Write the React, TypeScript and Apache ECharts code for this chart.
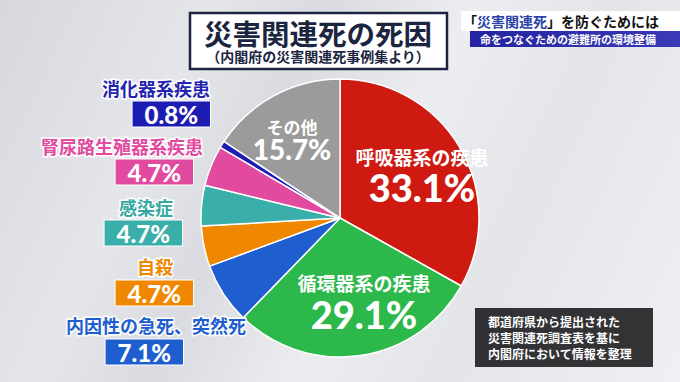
import React, { useEffect, useRef } from "react";
import * as echarts from "echarts";

const categories = ["呼吸器系の疾患", "循環器系の疾患", "内因性の急死、突然死", "自殺", "感染症", "腎尿路生殖器系疾患", "消化器系疾患", "その他"];
const values = [33.1, 29.1, 7.1, 4.7, 4.7, 4.7, 0.8, 15.7];
const sliceColors = ["#cf1a12", "#2db84b", "#1e5ecf", "#ef8800", "#3aaea8", "#e14a9f", "#1c1cb3", "#9b9b9b"];
const nameColors = ["#ffffff", "#ffffff", "#1e5ecf", "#ef8800", "#34a8a2", "#e14a9f", "#2323b0", "#ffffff"];

// label placement (not data)
const insideLabelPos: Record<number, { x: number; y1: number; y2: number; f1: number; f2: number }> = {
  0: { x: 422, y1: 156, y2: 187, f1: 19, f2: 38 },
  1: { x: 364, y1: 282, y2: 314, f1: 19, f2: 38 },
  7: { x: 292, y1: 126, y2: 149, f1: 17, f2: 28 },
};
const outsideLabelPos: Record<number, { nx: number; ny: number; bx: number; by: number }> = {
  2: { nx: 246, ny: 325, bx: 183, by: 352 },
  3: { nx: 173, ny: 266, bx: 193, by: 293 },
  4: { nx: 173, ny: 207, bx: 182, by: 233 },
  5: { nx: 203, ny: 146, bx: 193, by: 172 },
  6: { nx: 210, ny: 88, bx: 210, by: 114 },
};

const FONT = '"Noto Sans CJK JP", "Noto Sans", sans-serif';
const NUMFONT = 'Lato, "Noto Sans", sans-serif';

export default function App() {
  const ref = useRef<HTMLDivElement>(null);
  useEffect(() => {
    if (!ref.current) return;
    const chart = echarts.init(ref.current, null, { renderer: "svg" });
    const graphics: any[] = [];

    // title box
    graphics.push({
      type: "rect",
      shape: { x: 190, y: 13, width: 257, height: 56 },
      style: { fill: "#ffffff", stroke: "#1c2540", lineWidth: 2.5 },
    });
    graphics.push({
      type: "text",
      x: 318, y: 32,
      style: { text: "災害関連死の死因", font: `bold 28.5px ${FONT}`, fill: "#1c2540", align: "center", verticalAlign: "middle" },
    });
    graphics.push({
      type: "text",
      x: 318, y: 56,
      style: { text: "（内閣府の災害関連死事例集より）", font: `bold 14px ${FONT}`, fill: "#1c2540", align: "center", verticalAlign: "middle" },
    });

    // top-right caption
    graphics.push({
      type: "rect",
      shape: { x: 461, y: 11, width: 219, height: 20 },
      style: { fill: "#ffffff" },
    });
    graphics.push({
      type: "text",
      x: 463, y: 21,
      style: {
        text: "{b|「}{h|災害関連死}{b|」を防ぐためには}",
        verticalAlign: "middle",
        rich: {
          b: { font: `bold 14px ${FONT}`, fill: "#111111" },
          h: { font: `bold 14px ${FONT}`, fill: "#2b44a8" },
        },
      },
    });
    graphics.push({
      type: "rect",
      shape: { x: 470, y: 31, width: 210, height: 16 },
      style: {
        fill: new echarts.graphic.LinearGradient(0, 0, 1, 0, [
          { offset: 0, color: "#2424a0" },
          { offset: 1, color: "#3a3ab8" },
        ]),
      },
    });
    graphics.push({
      type: "text",
      x: 480, y: 39,
      style: { text: "命をつなぐための避難所の環境整備", font: `bold 11px ${FONT}`, fill: "#ffffff", verticalAlign: "middle" },
    });

    // note box
    graphics.push({
      type: "rect",
      shape: { x: 475, y: 308, width: 178, height: 59 },
      style: { fill: "rgba(35,35,38,0.92)" },
    });
    ["都道府県から提出された", "災害関連死調査表を基に", "内閣府において情報を整理"].forEach((t, i) => {
      graphics.push({
        type: "text",
        x: 488, y: 321 + i * 16,
        style: { text: t, font: `bold 12px ${FONT}`, fill: "#ffffff", verticalAlign: "middle" },
      });
    });

    // slice labels
    categories.forEach((name, i) => {
      const pct = values[i].toFixed(1) + "%";
      const inside = insideLabelPos[i];
      if (inside) {
        graphics.push({
          type: "text", x: inside.x, y: inside.y1, z: 10,
          style: { text: name, font: `bold ${inside.f1}px ${FONT}`, fill: "#ffffff", align: "center", verticalAlign: "middle" },
        });
        graphics.push({
          type: "text", x: inside.x, y: inside.y2, z: 10,
          style: { text: pct, font: `900 ${inside.f2}px ${NUMFONT}`, fill: "#ffffff", align: "center", verticalAlign: "middle" },
        });
      }
      const out = outsideLabelPos[i];
      if (out) {
        graphics.push({
          type: "text", x: out.nx, y: out.ny, z: 10,
          style: {
            text: name, font: `bold 18px ${FONT}`, fill: nameColors[i],
            stroke: "#ffffff", lineWidth: 3, align: "right", verticalAlign: "middle",
          },
        });
        graphics.push({
          type: "text", x: out.bx, y: out.by, z: 10,
          style: {
            text: pct, font: `900 24px ${NUMFONT}`, fill: "#ffffff",
            backgroundColor: sliceColors[i], borderColor: "#ffffff", borderWidth: 1,
            padding: [0, 12, 0, 12], lineHeight: 25,
            align: "right", verticalAlign: "middle",
          },
        });
      }
    });

    chart.setOption({
      animation: false,
      graphic: graphics,
      series: [
        {
          type: "pie",
          center: [340, 218],
          radius: 139,
          startAngle: 90,
          clockwise: true,
          label: { show: false },
          labelLine: { show: false },
          itemStyle: { borderColor: "#ffffff", borderWidth: 1.5 },
          data: categories.map((n, i) => ({ name: n, value: values[i], itemStyle: { color: sliceColors[i] } })),
        },
      ],
    });
    return () => chart.dispose();
  }, []);

  return (
    <div
      style={{
        position: "fixed", left: 0, top: 0, width: 680, height: 382,
        background:
          "linear-gradient(115deg, #d6d8de 0%, #e4e6ea 25%, #d9dbe0 38%, #ebedf0 55%, #e3e5e9 72%, #eff0f3 100%)",
      }}
    >
      <div ref={ref} style={{ width: 680, height: 382 }} />
    </div>
  );
}
